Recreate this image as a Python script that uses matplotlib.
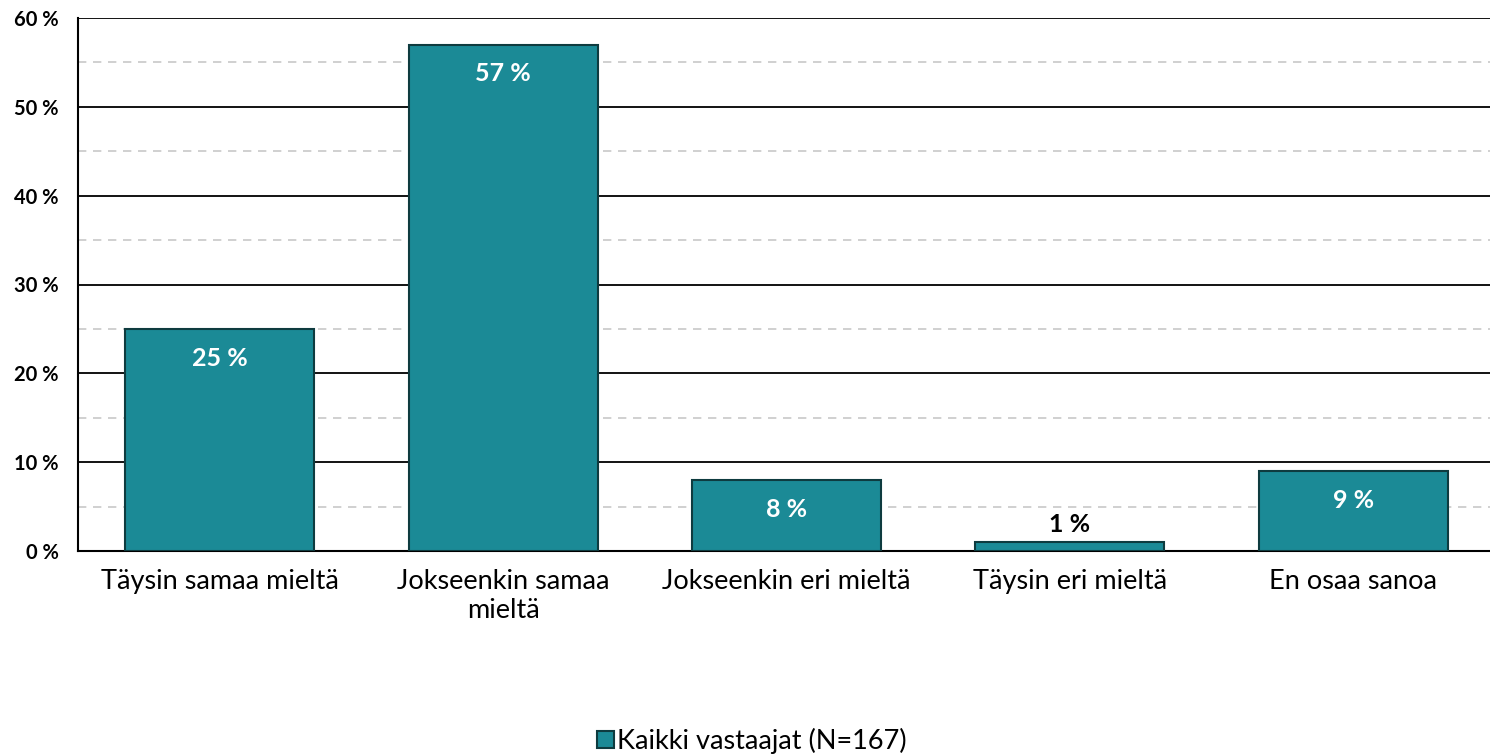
import matplotlib
matplotlib.use("Agg")
import matplotlib.pyplot as plt
import numpy as np

categories = ["Täysin samaa mieltä", "Jokseenkin samaa\nmieltä", "Jokseenkin eri mieltä",
              "Täysin eri mieltä", "En osaa sanoa"]
values = [25, 57, 8, 1, 9]
series_name = "Kaikki vastaajat (N=167)"
yticks = [0, 10, 20, 30, 40, 50, 60]
ytick_labels = ["0 %", "10 %", "20 %", "30 %", "40 %", "50 %", "60 %"]

plt.rcParams['font.family'] = ['Lato', 'DejaVu Sans']

W, H = 1490, 755
fig = plt.figure(figsize=(W/100, H/100), dpi=100)
left, right, top, bottom = 78, 1495, 18, 551
ax = fig.add_axes([left/W, 1-bottom/H, (right-left)/W, (bottom-top)/H])

x = np.arange(len(categories))
bars = ax.bar(x, values, width=0.667, color="#1B8A96", edgecolor="#0E3B3F",
              linewidth=1.5, zorder=3, label=series_name)

ax.set_xlim(-0.5, len(categories)-0.5)
ax.set_ylim(0, 60)
for v in range(5, 60, 10):
    ax.axhline(v, color="#C8C8C8", linestyle=(0, (5, 4)), linewidth=1.2, zorder=1)
for v in range(10, 61, 10):
    ax.axhline(v, color="black", linewidth=1.3, zorder=2)

ax.set_yticks(yticks)
ax.set_yticklabels(ytick_labels, fontsize=14.5, fontweight='bold')
ax.set_xticks(x)
ax.set_xticklabels(categories, fontsize=19.5, linespacing=1.2)
ax.tick_params(axis='both', length=0)
ax.tick_params(axis='y', pad=14)
ax.tick_params(axis='x', pad=13)
for s in ['top', 'right']:
    ax.spines[s].set_visible(False)
ax.spines['left'].set_linewidth(1.5)
ax.spines['bottom'].set_linewidth(1.5)
ax.spines['left'].set_zorder(4)

for xi, v in zip(x, values):
    if v >= 5:
        ax.annotate(f"{v} %", (xi, v), xytext=(0, -21), textcoords='offset points',
                    ha='center', va='center', color='white', fontsize=18, fontweight='bold', zorder=5)
    else:
        ax.annotate(f"{v} %", (xi, v), xytext=(0, 13), textcoords='offset points',
                    ha='center', va='center', color='black', fontsize=18, fontweight='bold', zorder=5)

fig.legend(handles=[bars], labels=[series_name], loc='center', bbox_to_anchor=(752/W, 1-741/H),
           frameon=False, fontsize=19.5, handlelength=0.6, handleheight=0.6, handletextpad=0.12)

fig.savefig("out.png", dpi=100)
